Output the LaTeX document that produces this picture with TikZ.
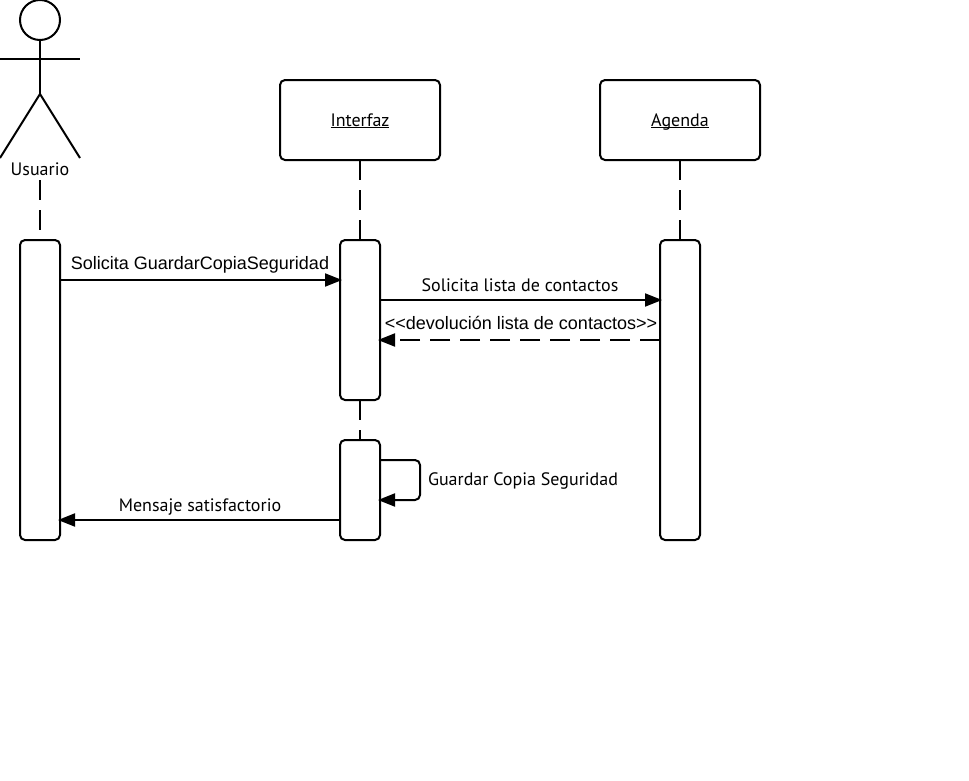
\documentclass[tikz,border=0pt]{standalone}
\usepackage{fontspec}
\setmainfont{PT Sans}
\newfontfamily\arialfont{Liberation Sans}
\usetikzlibrary{arrows.meta}

\tikzset{
  objbox/.style ={rectangle, draw=black, line width=2pt, rounded corners=5pt, outer sep=0pt,
    minimum width=160pt, minimum height=80pt, inner sep=0pt, font=\fontsize{18}{20}\selectfont},
  actbox/.style ={rectangle, draw=black, line width=2pt, rounded corners=5pt, outer sep=0pt,
    minimum width=40pt, inner sep=0pt},
  lbl/.style={inner sep=0pt, font=\fontsize{18}{20}\selectfont},
  lblb/.style={inner sep=0pt, font=\arialfont\fontsize{18}{20}\selectfont},
  msg/.style={line width=2pt, shorten >=-2pt, -{Triangle[length=17pt,width=13pt]}},
  life/.style={line width=2pt, dash pattern=on 20pt off 10pt},
  stick/.style={line width=2pt}
}

\begin{document}
\begin{tikzpicture}[x=1pt,y=-1pt]
  \useasboundingbox (0,0) rectangle (969,780);
  % actor
  \node[circle, draw=black, line width=2pt, minimum size=40pt, inner sep=0pt, outer sep=0pt] (head) at (40,20) {};
  \coordinate (hip) at (40,94);
  \coordinate (armL) at (0,59);
  \coordinate (armR) at (80,59);
  \coordinate (footL) at (0,158);
  \coordinate (footR) at (80,158);
  \coordinate (uTop) at (40,180);
  \draw[stick] (head) -- (hip);
  \draw[stick] (armL) -- (armR);
  \draw[stick] (footL) -- (hip) -- (footR);
  \node[lbl] (usuario) at (40,169) {Usuario};

  \node[objbox] (interfaz) at (360,120) {\raisebox{-6pt}[0pt][0pt]{\underline{\smash{Interfaz}}}};
  \node[objbox] (agenda) at (680,120) {\raisebox{-6pt}[0pt][0pt]{\underline{\smash{Agenda}}}};

  \node[actbox, minimum height=300pt] (uAct) at (40,390) {};
  \node[actbox, minimum height=160pt] (iAct) at (360,320) {};
  \node[actbox, minimum height=100pt] (iActb) at (360,490) {};
  \node[actbox, minimum height=300pt] (aAct) at (680,390) {};

  \draw[life] (uTop) -- (uAct);
  \draw[life] (interfaz) -- (iAct);
  \draw[life] (iAct) -- (iActb);
  \draw[life] (agenda) -- (aAct);

  \draw[msg] ([yshift=-40pt]uAct.north east) -- ([yshift=-40pt]iAct.north west);
  \draw[msg] ([yshift=-60pt]iAct.north east) -- ([yshift=-60pt]aAct.north west);
  \draw[msg, dash pattern=on 20pt off 10pt] ([yshift=-100pt]aAct.north west) -- ([yshift=-100pt]iAct.north east);
  \draw[msg, rounded corners=5pt] ([yshift=-20pt]iActb.north east) -| ++(40pt,-40pt) -- ([yshift=-60pt]iActb.north east);
  \draw[msg] ([yshift=-80pt]iActb.north west) -- ([yshift=-280pt]uAct.north east);

  \node[lblb] (m1) at (200,265) {Solicita GuardarCopiaSeguridad};
  \node[lbl] (m2) at (520,285) {Solicita lista de contactos};
  \node[lblb] (m3) at (521,323) {<<devolución lista de contactos>>};
  \node[lbl] (m4) at (523,481) {Guardar Copia Seguridad};
  \node[lbl] (m5) at (200,507) {Mensaje satisfactorio};
\end{tikzpicture}
\end{document}
